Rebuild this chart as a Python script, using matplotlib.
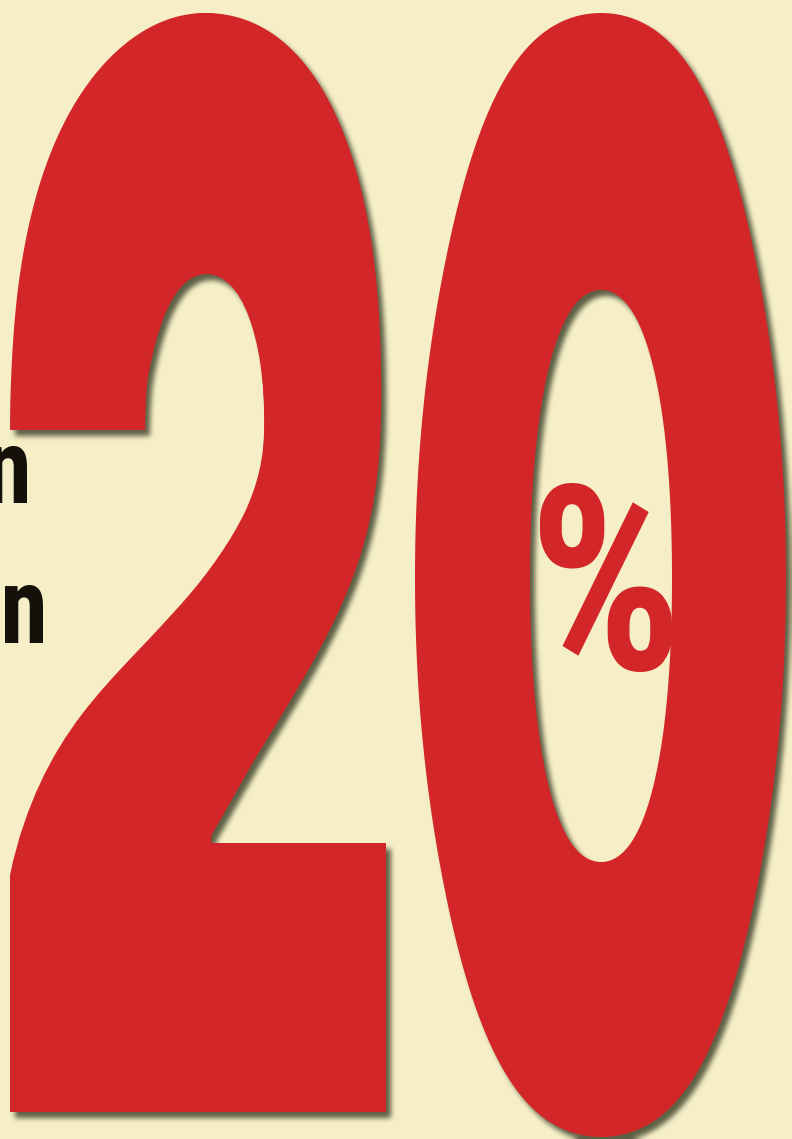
import numpy as np
import matplotlib
matplotlib.use("Agg")
import matplotlib.pyplot as plt
from matplotlib.textpath import TextPath
from matplotlib.font_manager import FontProperties
from matplotlib.patches import PathPatch
from matplotlib.path import Path
from matplotlib.transforms import Affine2D
from matplotlib.patheffects import AbstractPathEffect

W, H = 792, 1139
BG = "#f5eec6"
RED = "#d32629"
SHADOW = "#4d5038"
INK = "#15110a"

# what the poster says
number_digits = ["2", "0"]
sign_label = "%"
side_letters = ["n", "n"]

# pixel boxes the glyphs get stretched into (y goes down)
two_x = [10, 148, 262, 386]          # left, counter left, counter right, right
two_y = [1112, 843, 430, 283, 13]    # bottom, base top, terminal bottom, counter top, top
zero_x = [415, 530, 672, 786]        # outer left, counter left, counter right, outer right
zero_y = [1137, 862, 290, 13]        # outer bottom, counter bottom, counter top, outer top
sign_box = ([540, 672], [672, 483])
letter_boxes = [([-11, 27], [503, 446]), ([5, 43], [643, 585])]

digit_font = FontProperties(family="Inter", weight="black")
neck_font = FontProperties(family="Liberation Sans", weight="bold")  # curved neck, fattens the 2
sign_font = FontProperties(family="Roboto Condensed", weight="bold")


def pchip(x, xp, fp):
    # smooth monotone mapping, so the stretched glyph has no kinks
    xp = np.asarray(xp, float)
    fp = np.asarray(fp, float)
    hk = np.diff(xp)
    d = np.diff(fp) / hk
    m = np.zeros_like(fp)
    m[0], m[-1] = d[0], d[-1]
    for k in range(1, len(xp) - 1):
        if d[k - 1] * d[k] > 0:
            w1 = 2 * hk[k] + hk[k - 1]
            w2 = hk[k] + 2 * hk[k - 1]
            m[k] = (w1 + w2) / (w1 / d[k - 1] + w2 / d[k])
    x = np.clip(x, xp[0], xp[-1])
    i = np.clip(np.searchsorted(xp, x) - 1, 0, len(xp) - 2)
    t = (x - xp[i]) / hk[i]
    h00 = 2 * t ** 3 - 3 * t ** 2 + 1
    h10 = t ** 3 - 2 * t ** 2 + t
    h01 = -2 * t ** 3 + 3 * t ** 2
    h11 = t ** 3 - t ** 2
    return h00 * fp[i] + h10 * hk[i] * m[i] + h01 * fp[i + 1] + h11 * hk[i] * m[i + 1]


def glyph_polys(ch, fp):
    tp = TextPath((0, 0), ch, size=1500, prop=fp)
    return [p for p in tp.to_polygons() if len(p) > 2]


def polys_to_path(polys):
    verts, codes = [], []
    for p in polys:
        verts.extend(p)
        codes.extend([Path.MOVETO] + [Path.LINETO] * (len(p) - 2) + [Path.CLOSEPOLY])
    return Path(np.array(verts), codes)


def warp(polys, sx, dx, sy, dy):
    out = []
    for p in polys:
        q = p.copy()
        q[:, 0] = pchip(p[:, 0], sx, dx)
        q[:, 1] = pchip(p[:, 1], sy, dy)
        out.append(q)
    return out


def crossings(polys, y):
    xs = []
    for p in polys:
        a, b = p[:-1], p[1:]
        hit = (a[:, 1] - y) * (b[:, 1] - y) < 0
        t = (y - a[hit, 1]) / (b[hit, 1] - a[hit, 1])
        xs.extend(a[hit, 0] + t * (b[hit, 0] - a[hit, 0]))
    return sorted(xs)


def fit_two(polys):
    P = np.vstack(polys)
    x0, y0 = P.min(axis=0)
    x1, y1 = P.max(axis=0)
    w, h = x1 - x0, y1 - y0
    low = P[P[:, 1] < y0 + 0.3 * h]
    xr = low[:, 0].max()
    base_top = low[low[:, 0] > xr - 0.01 * w][:, 1].max()
    upleft = P[(P[:, 1] > y0 + 0.55 * h) & (P[:, 0] < x0 + 0.3 * w)]
    term_bot = upleft[:, 1].min()
    mid = P[(P[:, 1] > y0 + 0.6 * h) & (np.abs(P[:, 0] - (x0 + 0.5 * w)) < 0.08 * w)]
    cnt_top = mid[:, 1].min()
    cx = crossings(polys, term_bot + 0.4 * (cnt_top - term_bot))
    if len(cx) == 4:
        sx, dx = [x0, cx[1], cx[2], x1], two_x
    else:
        sx, dx = [x0, x1], [two_x[0], two_x[-1]]
    return warp(polys, sx, dx, [y0, base_top, term_bot, cnt_top, y1], two_y)


def fit_zero(polys):
    polys = sorted(polys, key=lambda p: -(p[:, 0].max() - p[:, 0].min()))
    ox0, oy0 = polys[0].min(axis=0)
    ox1, oy1 = polys[0].max(axis=0)
    ix0, iy0 = polys[1].min(axis=0)
    ix1, iy1 = polys[1].max(axis=0)
    return warp(polys, [ox0, ix0, ix1, ox1], zero_x, [oy0, iy0, iy1, oy1], zero_y)


def fit_box(box):
    def f(polys):
        P = np.vstack(polys)
        x0, y0 = P.min(axis=0)
        x1, y1 = P.max(axis=0)
        return warp(polys, [x0, x1], box[0], [y0, y1], box[1])
    return f


class FitGlyph(AbstractPathEffect):
    # draws the text's own glyph outline stretched into its poster box
    def __init__(self, fit, ax):
        super().__init__()
        self.fit = fit
        self.ax = ax

    def draw_path(self, renderer, gc, tpath, affine, rgbFace=None):
        k = 2000.0 / max(tpath.get_extents().height, 1e-9)
        polys = [p for p in tpath.to_polygons(transform=Affine2D().scale(k)) if len(p) > 2]
        renderer.draw_path(gc, polys_to_path(self.fit(polys)), self.ax.transData, rgbFace)


neck_path = polys_to_path(fit_two(glyph_polys(number_digits[0], neck_font)))
shadow_paths = [neck_path,
                polys_to_path(fit_two(glyph_polys(number_digits[0], digit_font))),
                polys_to_path(fit_zero(glyph_polys(number_digits[1], digit_font)))]

# soft drop shadow: draw the digits off screen, blur the mask
sfig = plt.figure(figsize=(W / 100, H / 100), dpi=100)
sfig.patch.set_facecolor("white")
sax = sfig.add_axes([0, 0, 1, 1])
sax.set_xlim(0, W)
sax.set_ylim(H, 0)
sax.axis("off")
for pth in shadow_paths:
    sax.add_patch(PathPatch(pth, facecolor="black", edgecolor="none",
                            transform=Affine2D().translate(5, 6) + sax.transData))
sfig.canvas.draw()
mask = 1 - np.asarray(sfig.canvas.buffer_rgba())[..., 0].astype(float) / 255
plt.close(sfig)


def blur1d(a, r, axis):
    a = np.moveaxis(a, axis, 0)
    pad = np.pad(a, ((r + 1, r), (0, 0)), mode="edge")
    c = np.cumsum(pad, axis=0)
    return np.moveaxis((c[2 * r + 1:] - c[:-2 * r - 1]) / (2 * r + 1), 0, axis)


for _ in range(3):
    mask = blur1d(blur1d(mask, 2, 0), 2, 1)

shadow = np.zeros(mask.shape + (4,))
shadow[..., :3] = matplotlib.colors.to_rgb(SHADOW)
shadow[..., 3] = np.clip(mask, 0, 1) * 0.9

fig = plt.figure(figsize=(W / 100, H / 100), dpi=100)
fig.patch.set_facecolor(BG)
ax = fig.add_axes([0, 0, 1, 1])
ax.set_facecolor(BG)
ax.imshow(shadow, extent=(0, W, H, 0), interpolation="bilinear", zorder=1, aspect="auto")
ax.add_patch(PathPatch(neck_path, facecolor=RED, edgecolor="none", zorder=2))

ax.text(197, 575, number_digits[0], ha="center", va="center", color=RED, fontsize=300,
        fontproperties=digit_font, zorder=3, path_effects=[FitGlyph(fit_two, ax)])
ax.text(600, 575, number_digits[1], ha="center", va="center", color=RED, fontsize=300,
        fontproperties=digit_font, zorder=3, path_effects=[FitGlyph(fit_zero, ax)])
ax.text(606, 578, sign_label, ha="center", va="center", color=RED, fontsize=180,
        fontproperties=sign_font, zorder=4, path_effects=[FitGlyph(fit_box(sign_box), ax)])
ax.text(31, 503, side_letters[0], ha="right", va="baseline", color=INK, fontsize=76,
        fontproperties=sign_font, zorder=4, path_effects=[FitGlyph(fit_box(letter_boxes[0]), ax)])
ax.text(0, 643, side_letters[1], ha="left", va="baseline", color=INK, fontsize=76,
        fontproperties=sign_font, zorder=4, path_effects=[FitGlyph(fit_box(letter_boxes[1]), ax)])

ax.set_xlim(0, W)
ax.set_ylim(H, 0)
ax.axis("off")
fig.savefig("out.png", facecolor=BG)
